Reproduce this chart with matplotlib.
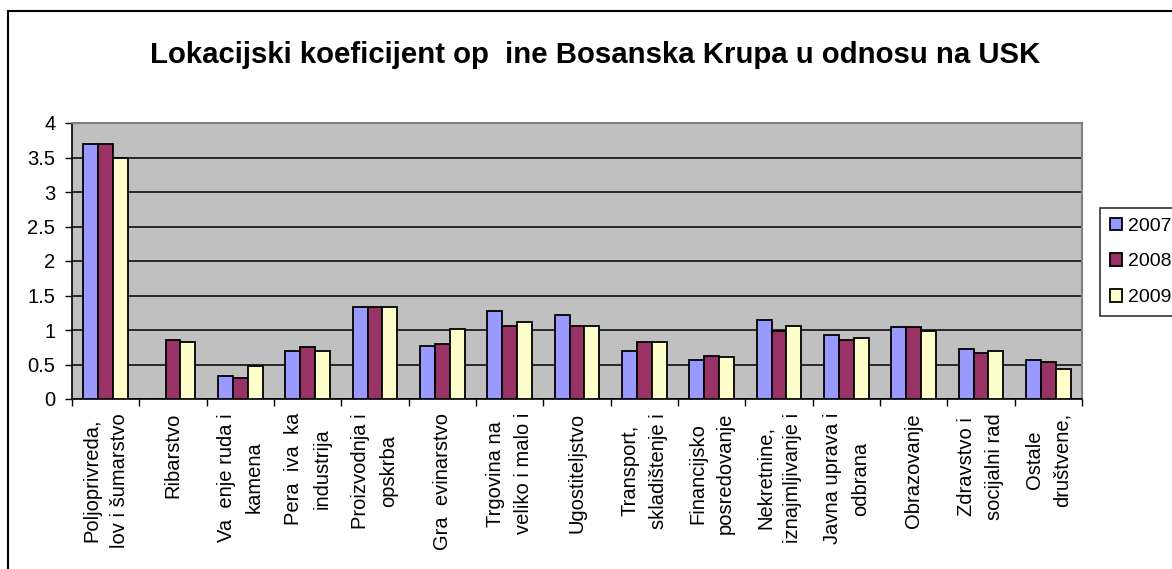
import matplotlib
matplotlib.use("Agg")
import matplotlib.pyplot as plt
from matplotlib.patches import Rectangle, Patch
import numpy as np

plt.rcParams['font.family'] = ['Liberation Sans', 'DejaVu Sans']

title = "Lokacijski koeficijent op  ine Bosanska Krupa u odnosu na USK"
categories = [
    "Poljoprivreda,\nlov i šumarstvo",
    "Ribarstvo",
    "Va  enje ruda i\nkamena",
    "Pera  iva  ka\nindustrija",
    "Proizvodnja i\nopskrba",
    "Gra  evinarstvo",
    "Trgovina na\nveliko i malo i",
    "Ugostiteljstvo",
    "Transport,\nskladištenje i",
    "Financijsko\nposredovanje",
    "Nekretnine,\niznajmljivanje i",
    "Javna uprava i\nodbrana",
    "Obrazovanje",
    "Zdravstvo i\nsocijalni rad",
    "Ostale\ndruštvene,",
]
series_names = ["2007", "2008", "2009"]
v2007 = [3.69, 0.0, 0.34, 0.69, 1.33, 0.77, 1.28, 1.22, 0.69, 0.56, 1.14, 0.93, 1.04, 0.72, 0.56]
v2008 = [3.69, 0.86, 0.31, 0.75, 1.33, 0.79, 1.06, 1.06, 0.82, 0.63, 0.99, 0.86, 1.04, 0.66, 0.53]
v2009 = [3.49, 0.82, 0.48, 0.69, 1.33, 1.01, 1.12, 1.06, 0.82, 0.61, 1.06, 0.88, 0.99, 0.69, 0.43]
colors = ["#9999FF", "#993366", "#FFFFCC"]
yticks = [0, 0.5, 1, 1.5, 2, 2.5, 3, 3.5, 4]

W, H = 1172, 569
fig = plt.figure(figsize=(W / 100, H / 100), dpi=100)
fig.patch.set_facecolor("white")

ax = fig.add_axes([72 / W, 1 - 399 / H, (1082 - 72) / W, (399 - 123) / H])
ax.set_facecolor("#C0C0C0")

n = len(categories)
x = np.arange(n)
bw = 1 / 4.5
for i, (vals, c, name) in enumerate(zip([v2007, v2008, v2009], colors, series_names)):
    ax.bar(x + (i - 1) * bw, vals, width=bw, color=c, edgecolor="black",
           linewidth=1.3, label=name, zorder=3)

ax.set_xlim(-0.5, n - 0.5)
ax.set_ylim(0, 4)
ax.set_yticks(yticks)
ax.set_yticklabels([f"{t:g}" for t in yticks], fontsize=14.5)
ax.yaxis.grid(True, color="black", linewidth=1.1, zorder=1)
ax.set_axisbelow(True)

ax.set_xticks(x)
ax.set_xticklabels(categories, rotation=90, ha="center", va="top",
                   multialignment="center", fontsize=14.5, linespacing=1.6)
ax.tick_params(axis="x", which="major", length=0, pad=10)
ax.set_xticks(np.arange(n + 1) - 0.5, minor=True)
ax.tick_params(axis="x", which="minor", length=5, width=1, color="black", direction="out")
ax.tick_params(axis="y", length=5, width=1, color="black", direction="out", pad=7)

for s in ["left", "bottom"]:
    ax.spines[s].set_color("black")
    ax.spines[s].set_linewidth(1.2)
for s in ["top", "right"]:
    ax.spines[s].set_color("#808080")
    ax.spines[s].set_linewidth(1.5)

fig.text(0.5 * (148 + 1043) / W, 1 - 55 / H, title, ha="center", va="center",
         fontsize=21.2, fontweight="bold")

handles = [Patch(facecolor=c, edgecolor="black", linewidth=1.3) for c in colors]
leg = fig.legend(handles, series_names, loc="upper left",
                 bbox_to_anchor=(1100 / W, 1 - 208 / H), bbox_transform=fig.transFigure,
                 fontsize=14, frameon=True, fancybox=False, borderaxespad=0,
                 handlelength=0.62, handleheight=0.62, handletextpad=0.3,
                 labelspacing=0.95, borderpad=0.5)
leg.get_frame().set_edgecolor("black")
leg.get_frame().set_linewidth(1.2)

fig.patches.append(Rectangle((8 / W, -0.1), 1.2, 1 - 11 / H + 0.1,
                             transform=fig.transFigure, fill=False,
                             edgecolor="black", linewidth=1.5, zorder=0))

fig.savefig("out.png", dpi=100)
